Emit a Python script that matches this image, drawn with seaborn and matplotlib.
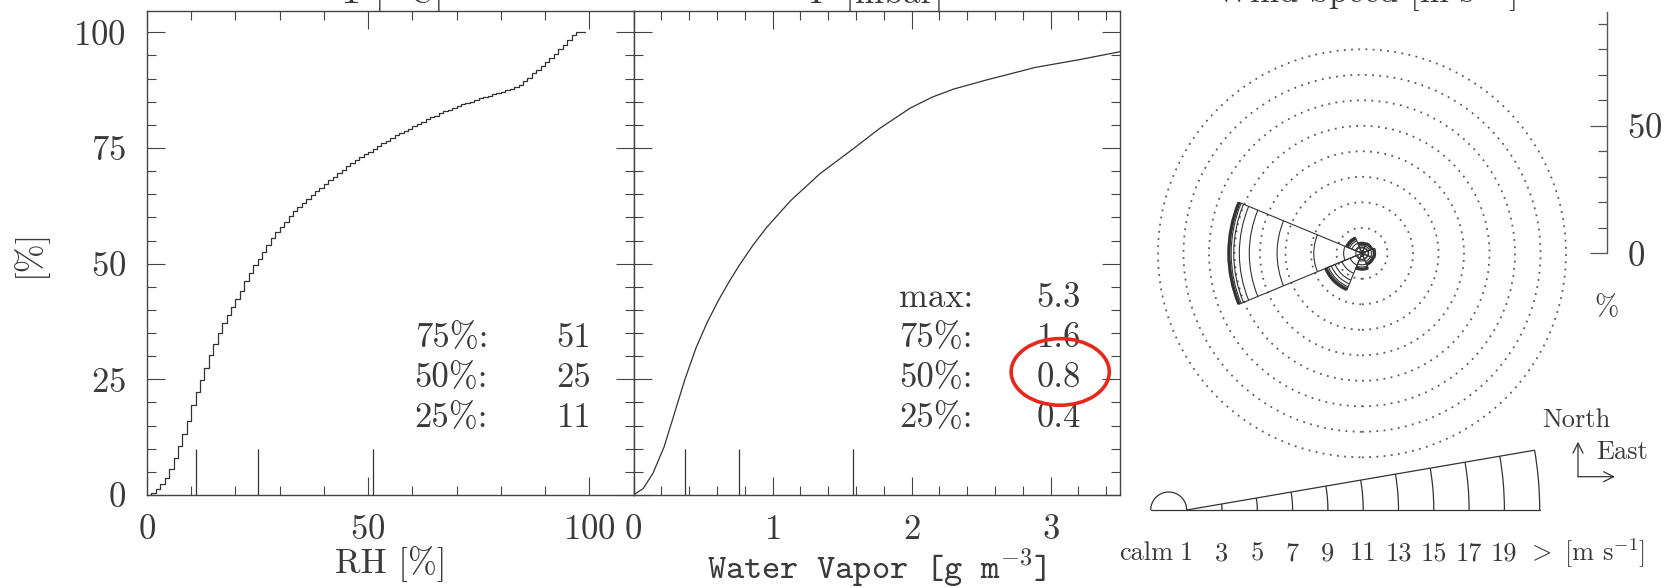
import numpy as np
import pandas as pd
import matplotlib
matplotlib.use("Agg")
import matplotlib.pyplot as plt
import seaborn as sns
from matplotlib.ticker import MultipleLocator, FixedLocator, NullFormatter
from matplotlib.patches import Arc, Circle, Ellipse

# ---------------- data ----------------
# Cumulative distribution of relative humidity (steps of 1 %)
rh_values = list(range(0, 100))
rh_cum_pct = [
    0.0, 0.4, 1.2, 2.3, 3.7, 5.7, 8.1, 10.5, 13.1, 16.0,
    19.4, 22.2, 24.9, 27.5, 30.3, 32.7, 35.1, 37.1, 39.0, 40.6,
    42.3, 44.0, 46.2, 48.0, 49.6, 51.1, 52.6, 54.0, 55.5, 56.8,
    58.0, 59.1, 60.2, 61.3, 62.3, 63.2, 64.0, 64.8, 65.6, 66.4,
    67.2, 68.0, 68.7, 69.5, 70.3, 71.0, 71.8, 72.4, 73.0, 73.6,
    74.2, 74.8, 75.4, 76.0, 76.6, 77.2, 77.7, 78.2, 78.7, 79.2,
    79.7, 80.2, 80.7, 81.2, 81.6, 82.0, 82.5, 82.9, 83.3, 83.7,
    84.0, 84.4, 84.7, 85.0, 85.3, 85.7, 86.0, 86.3, 86.6, 86.9,
    87.2, 87.5, 87.8, 88.2, 88.6, 89.4, 90.2, 91.1, 91.9, 92.7,
    93.5, 94.4, 95.3, 96.3, 97.3, 98.4, 99.4, 100.0, 100.0, 100.0,
]
rh_quant_labels = ["75%:", "50%:", "25%:"]
rh_quant_values = [51, 25, 11]

# Cumulative distribution of water vapour density
wv_values = [0.00, 0.07, 0.14, 0.22, 0.29, 0.37, 0.45, 0.53, 0.61, 0.69, 0.76, 0.86,
             0.96, 1.13, 1.34, 1.58, 1.77, 1.99, 2.15, 2.30, 2.54, 2.89, 3.21, 3.50]
wv_cum_pct = [0.0, 1.4, 4.7, 10.4, 17.2, 25.0, 31.8, 37.3, 42.0, 46.2, 49.6, 54.0,
              57.9, 63.6, 69.4, 74.8, 79.2, 83.6, 86.0, 87.7, 89.7, 92.4, 94.1, 95.8]
wv_stat_labels = ["max:", "75%:", "50%:", "25%:"]
wv_stat_values = [5.3, 1.58, 0.76, 0.37]

# Wind rose: frequency [%] per speed class for each direction sector
speed_classes = ["1", "3", "5", "7", "9", "11", "13", "15", "17", "19"]
wind_dirs_deg = [0, 45, 90, 135, 180, 225, 270, 315]
freq_N = [1.0, 1.1, 0.9, 0.5, 0.3, 0.1, 0.05, 0.03, 0.01, 0.01]
freq_NE = [1.0, 1.2, 0.9, 0.6, 0.3, 0.1, 0.05, 0.03, 0.01, 0.01]
freq_E = [1.2, 1.4, 1.1, 0.7, 0.3, 0.15, 0.08, 0.04, 0.02, 0.01]
freq_SE = [1.1, 1.3, 1.1, 0.7, 0.3, 0.15, 0.08, 0.04, 0.02, 0.01]
freq_S = [1.3, 1.7, 1.5, 0.9, 0.5, 0.2, 0.1, 0.05, 0.03, 0.02]
freq_SW = [2.0, 3.0, 3.5, 2.9, 1.6, 1.2, 0.6, 0.4, 0.2, 0.1]
freq_W = [7.2, 11.7, 14.4, 10.9, 3.9, 2.2, 1.0, 0.5, 0.3, 0.2]
freq_NW = [1.2, 1.6, 1.5, 1.0, 0.6, 0.3, 0.2, 0.1, 0.05, 0.05]
calm_pct = 2.4
ring_levels = [10, 20, 30, 40, 50, 60, 70, 80]

# ---------------- style ----------------
sns.set_theme(style="ticks")
INK = "#3a3a3a"
LINE = "#444444"
plt.rcParams.update({
    "font.family": ["cmr10", "DejaVu Serif"],
    "mathtext.fontset": "cm",
    "axes.formatter.use_mathtext": True,
    "axes.unicode_minus": False,
    "text.color": INK,
    "axes.labelcolor": INK,
    "xtick.color": LINE,
    "ytick.color": LINE,
    "xtick.labelcolor": INK,
    "ytick.labelcolor": INK,
    "axes.edgecolor": LINE,
    "axes.linewidth": 1.0,
})

W, H = 1675, 588
fig = plt.figure(figsize=(W / 100, H / 100), dpi=100)
fig.patch.set_facecolor("white")


def px_axes(x0, y0, x1, y1):
    return fig.add_axes([x0 / W, 1 - y1 / H, (x1 - x0) / W, (y1 - y0) / H])


FS = 25


def style_cdf_axes(ax):
    ax.set_facecolor("white")
    for s in ax.spines.values():
        s.set_visible(True)
        s.set_color(LINE)
        s.set_linewidth(1.0)
    ax.tick_params(which="both", direction="in", top=True, right=True,
                   bottom=True, left=True, width=0.8, color=LINE)
    ax.tick_params(which="major", length=13.3, labelsize=FS)
    ax.tick_params(which="minor", length=6.8)
    ax.tick_params(axis="x", which="major", pad=14)
    ax.tick_params(axis="y", which="major", pad=15)
    ax.set_ylim(0, 104.6)
    ax.yaxis.set_major_locator(MultipleLocator(25))
    ax.yaxis.set_minor_locator(MultipleLocator(5))


# ---------------- panel 1: RH ----------------
ax1 = px_axes(147, 11, 633.5, 495)
df_rh = pd.DataFrame({"rh": rh_values, "cum": rh_cum_pct})
sns.lineplot(data=df_rh, x="rh", y="cum", ax=ax1, drawstyle="steps-post",
             color="#333333", linewidth=0.9, estimator=None, sort=False)
style_cdf_axes(ax1)
ax1.set_xlim(0, 110)
ax1.xaxis.set_major_locator(FixedLocator([0, 50, 100]))
ax1.xaxis.set_minor_locator(MultipleLocator(10))
ax1.set_xlabel("RH [%]", fontsize=FS, labelpad=0)
ax1.set_ylabel("[%]", fontsize=FS, labelpad=19)
ax1.vlines(rh_quant_values, 0, 10, color="#333333", linewidth=0.9)
for i, (lab, val) in enumerate(zip(rh_quant_labels, rh_quant_values)):
    yy = 33.9 - i * 8.6
    ax1.text(77.1, yy, lab, ha="right", va="center", fontsize=FS)
    ax1.text(100.5, yy, f"{val:d}", ha="right", va="center", fontsize=FS)

# ---------------- panel 2: water vapour ----------------
ax2 = px_axes(633.5, 11, 1120, 495)
df_wv = pd.DataFrame({"wv": wv_values, "cum": wv_cum_pct})
sns.lineplot(data=df_wv, x="wv", y="cum", ax=ax2, color="#333333",
             linewidth=0.9, estimator=None, sort=False)
style_cdf_axes(ax2)
ax2.set_xlim(0, 3.5)
ax2.xaxis.set_major_locator(FixedLocator([0, 1, 2, 3]))
ax2.xaxis.set_minor_locator(MultipleLocator(0.2))
ax2.yaxis.set_major_formatter(NullFormatter())
ax2.set_ylabel("")
ax2.set_xlabel(r"Water Vapor [g m$^{-3}$]", fontsize=FS, labelpad=0,
               family="cmtt10")
ax2.vlines(wv_stat_values[1:], 0, 10, color="#333333", linewidth=0.9)
for i, (lab, val) in enumerate(zip(wv_stat_labels, wv_stat_values)):
    yy = 42.5 - i * 8.6
    ax2.text(2.44, yy, lab, ha="right", va="center", fontsize=FS)
    ax2.text(3.22, yy, f"{val:.1f}", ha="right", va="center", fontsize=FS)
# highlight around the median value
ax2.add_patch(Ellipse((3.07, 26.6), 0.706, 14.4, fill=False,
                      edgecolor="#e8281a", linewidth=2.6, zorder=5))

# ---------------- panel titles (cut by the top edge) ----------------
ty = 1 - 2.5 / H
fig.text(390 / W, ty, r"T [$^\circ$C]", ha="center", va="baseline", fontsize=FS)
fig.text(876.5 / W, ty, "P [mbar]", ha="center", va="baseline", fontsize=FS)
fig.text(1365 / W, ty, r"Wind Speed [m s$^{-1}$]", ha="center", va="baseline",
         fontsize=FS)

# ---------------- wind rose ----------------
CX, CY, PX10 = 1362.0, 253.3, 25.5   # centre in pixels, pixels per 10 %
X0, X1 = 1130, 1675
axr = px_axes(X0, 0, X1, H)
axr.set_xlim((X0 - CX) / PX10 * 10, (X1 - CX) / PX10 * 10)
axr.set_ylim((CY - H) / PX10 * 10, CY / PX10 * 10)
axr.axis("off")


def ux(px):
    return (px - CX) / PX10 * 10


def uy(py):
    return (CY - py) / PX10 * 10


for r in ring_levels:
    axr.add_patch(Circle((0, 0), r, fill=False, linestyle=(0, (1, 3)),
                         linewidth=1.3, edgecolor="#5a5a5a"))

sector_freqs = [freq_N, freq_NE, freq_E, freq_SE, freq_S, freq_SW, freq_W, freq_NW]
half = 22.5
for comp, freqs in zip(wind_dirs_deg, sector_freqs):
    cum = np.cumsum(freqs)
    mid = 90 - comp
    t1, t2 = mid - half, mid + half
    rmax = cum[-1]
    for t in (t1, t2):
        axr.plot([0, rmax * np.cos(np.radians(t))], [0, rmax * np.sin(np.radians(t))],
                 color="#333333", linewidth=0.8, solid_capstyle="butt")
    for k, r in enumerate(cum):
        lw = 2.0 if k == len(cum) - 1 else 0.8
        axr.add_patch(Arc((0, 0), 2 * r, 2 * r, theta1=t1, theta2=t2,
                          linewidth=lw, color="#333333"))
axr.add_patch(Circle((0, 0), calm_pct, fill=False, linewidth=0.8,
                     edgecolor="#333333"))

# speed-class key
base_y = 510.0
semi_c, semi_r = 1168.7, 18.0
apex_x, seg_px, key_ang = 1186.7, 35.3, 9.75
axr.add_patch(Arc((ux(semi_c), uy(base_y)), 2 * semi_r / PX10 * 10, 2 * semi_r / PX10 * 10,
                  theta1=0, theta2=180, linewidth=0.9, color="#333333"))
n_cls = len(speed_classes)
end_x = apex_x + n_cls * seg_px
axr.plot([ux(semi_c - semi_r), ux(end_x)], [uy(base_y), uy(base_y)],
         color="#333333", linewidth=0.9)
key_len = n_cls * seg_px / PX10 * 10
axr.plot([ux(apex_x), ux(apex_x) + key_len * np.cos(np.radians(key_ang))],
         [uy(base_y), uy(base_y) + key_len * np.sin(np.radians(key_ang))],
         color="#333333", linewidth=0.9)
for k in range(1, n_cls + 1):
    rr = k * seg_px / PX10 * 10
    axr.add_patch(Arc((ux(apex_x), uy(base_y)), 2 * rr, 2 * rr, theta1=0,
                      theta2=key_ang, linewidth=0.9, color="#333333"))

lab_y = uy(553.3)
KFS = 19
axr.text(ux(1173), lab_y, "calm", ha="right", va="center", fontsize=KFS)
for k, lab in enumerate(speed_classes):
    axr.text(ux(apex_x + k * seg_px), lab_y, lab, ha="center", va="center",
             fontsize=KFS)
axr.text(ux(end_x), lab_y, r"$>$", ha="center", va="center", fontsize=KFS)
axr.text(ux(1564), lab_y, r"[m s$^{-1}$]", ha="left", va="center", fontsize=KFS)

# orientation arrows
corner = (ux(1578), uy(476.7))
axr.annotate("", xy=(ux(1578), uy(441.7)), xytext=corner,
             arrowprops=dict(arrowstyle="->", color="#333333", lw=0.9,
                             shrinkA=0, shrinkB=0, mutation_scale=18))
axr.annotate("", xy=(ux(1615), uy(476.7)), xytext=corner,
             arrowprops=dict(arrowstyle="->", color="#333333", lw=0.9,
                             shrinkA=0, shrinkB=0, mutation_scale=18))
axr.text(ux(1542), uy(420), "North", ha="left", va="center", fontsize=KFS)
axr.text(ux(1596), uy(451.7), "East", ha="left", va="center", fontsize=KFS)

# percentage scale beside the rose
axs = px_axes(1606, 11.8, 1606.6, CY)
axs.set_ylim(0, (CY - 11.8) / PX10 * 10)
for side in ("top", "bottom", "left"):
    axs.spines[side].set_visible(False)
axs.spines["right"].set_color("#555555")
axs.spines["right"].set_linewidth(1.0)
axs.set_facecolor("none")
axs.xaxis.set_visible(False)
axs.yaxis.tick_right()
axs.yaxis.set_major_locator(FixedLocator([0, 50]))
axs.yaxis.set_minor_locator(MultipleLocator(10))
axs.tick_params(axis="y", which="both", direction="in", left=False, right=True,
                color="#555555", width=0.9)
axs.tick_params(axis="y", which="major", length=12.2, labelsize=FS, pad=15)
axs.tick_params(axis="y", which="minor", length=6.5)
fig.text(1606 / W, 1 - 308 / H, "%", ha="center", va="center", fontsize=KFS + 2)

fig.savefig("out.png", dpi=100, facecolor="white")
